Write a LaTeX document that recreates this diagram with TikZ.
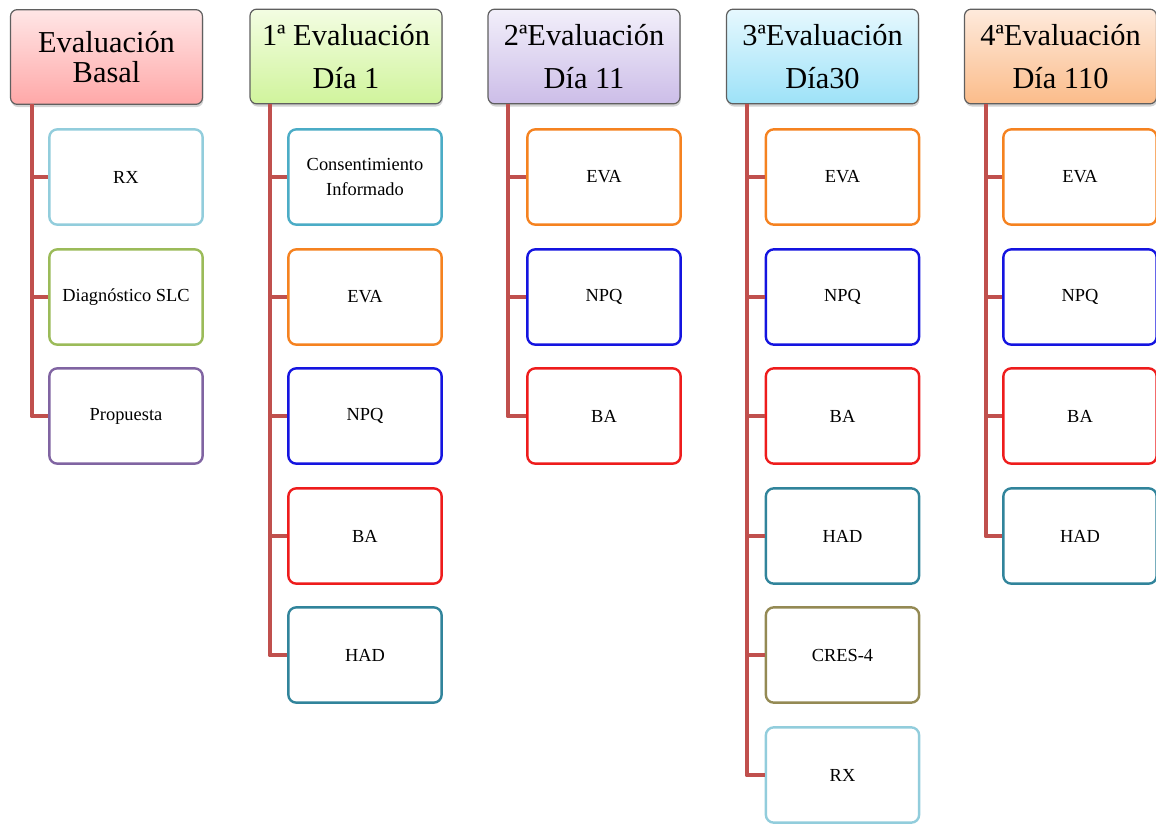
\documentclass[tikz,border=0pt]{standalone}
\usepackage{fontspec}
\setmainfont{Liberation Serif}
\usetikzlibrary{shadows}
\definecolor{spinec}{HTML}{C0504D}
\definecolor{hdrline}{HTML}{5F5F5F}
\definecolor{cRX}{HTML}{92CDDC}
\definecolor{cDX}{HTML}{9BBB59}
\definecolor{cPR}{HTML}{8064A2}
\definecolor{cCI}{HTML}{4BACC6}
\definecolor{cEVA}{HTML}{F58220}
\definecolor{cNPQ}{HTML}{1414E0}
\definecolor{cBA}{HTML}{EE1C1C}
\definecolor{cHAD}{HTML}{31849B}
\definecolor{cCRES}{HTML}{948A54}
\definecolor{pinkT}{HTML}{FFE6E6}\definecolor{pinkB}{HTML}{FFA8A8}
\definecolor{grnT}{HTML}{F3FDE2}\definecolor{grnB}{HTML}{D0F49C}
\definecolor{lavT}{HTML}{F2EFFA}\definecolor{lavB}{HTML}{CCBDE8}
\definecolor{cyaT}{HTML}{E6F8FE}\definecolor{cyaB}{HTML}{9DE2F8}
\definecolor{orgT}{HTML}{FEEADC}\definecolor{orgB}{HTML}{FBBC8A}
\begin{document}
\begin{tikzpicture}[x=0.75pt,y=-0.75pt,
  hdr/.style={rounded corners=5pt, draw=hdrline, line width=0.9pt,
    minimum width=144pt, minimum height=71pt, align=center, inner sep=0pt,
    font=\fontsize{22.8}{26}\selectfont,
    drop shadow={shadow xshift=0.6pt, shadow yshift=-2pt, opacity=0.35}},
  leaf/.style={rounded corners=6pt, line width=1.8pt, fill=white,
    minimum width=115pt, minimum height=71.5pt, align=center, inner sep=0pt,
    font=\fontsize{13.8}{16}\selectfont},
  spine/.style={draw=spinec, line width=3.7pt, line join=round}]
\useasboundingbox (0,0) rectangle (1156,826);

% headers
\node[hdr, top color=pinkT, bottom color=pinkB] (h1) at (106.5,57) {Evaluación\\[-4pt]Basal};
\node[hdr, top color=grnT, bottom color=grnB] (h2) at (346,56.5) {1ª Evaluación\\[6pt]Día 1};
\node[hdr, top color=lavT, bottom color=lavB] (h3) at (584,56.5) {2ªEvaluación\\[6pt]Día 11};
\node[hdr, top color=cyaT, bottom color=cyaB] (h4) at (822.5,56.5) {3ªEvaluación\\[6pt]Día30};
\node[hdr, top color=orgT, bottom color=orgB] (h5) at (1060.5,56.5) {4ªEvaluación\\[6pt]Día 110};

% spine start points
\coordinate (s1) at (32,104);
\coordinate (s2) at (270,104);
\coordinate (s3) at (508,104);
\coordinate (s4) at (747,104);
\coordinate (s5) at (986,104);

% column 1
\node[leaf, draw=cRX] (a1) at (126,177) {RX};
\node[leaf, draw=cDX] (a2) at (126,297) {Diagnóstico SLC};
\node[leaf, draw=cPR] (a3) at (126,416) {Propuesta};
% column 2
\node[leaf, draw=cCI] (b1) at (365,177) {Consentimiento\\[3pt]Informado};
\node[leaf, draw=cEVA] (b2) at (365,297) {EVA};
\node[leaf, draw=cNPQ] (b3) at (365,416) {NPQ};
\node[leaf, draw=cBA] (b4) at (365,536) {BA};
\node[leaf, draw=cHAD] (b5) at (365,655) {HAD};
% column 3
\node[leaf, draw=cEVA] (c1) at (604,177) {EVA};
\node[leaf, draw=cNPQ] (c2) at (604,297) {NPQ};
\node[leaf, draw=cBA] (c3) at (604,416) {BA};
% column 4
\node[leaf, draw=cEVA] (d1) at (842.5,177) {EVA};
\node[leaf, draw=cNPQ] (d2) at (842.5,297) {NPQ};
\node[leaf, draw=cBA] (d3) at (842.5,416) {BA};
\node[leaf, draw=cHAD] (d4) at (842.5,536) {HAD};
\node[leaf, draw=cCRES] (d5) at (842.5,655) {CRES-4};
\node[leaf, draw=cRX] (d6) at (842.5,775) {RX};
% column 5
\node[leaf, draw=cEVA] (e1) at (1080,177) {EVA};
\node[leaf, draw=cNPQ] (e2) at (1080,297) {NPQ};
\node[leaf, draw=cBA] (e3) at (1080,416) {BA};
\node[leaf, draw=cHAD] (e4) at (1080,536) {HAD};

% connectors
\foreach \n in {a1,a2,a3} \draw[spine] (s1) |- (\n.west);
\foreach \n in {b1,b2,b3,b4,b5} \draw[spine] (s2) |- (\n.west);
\foreach \n in {c1,c2,c3} \draw[spine] (s3) |- (\n.west);
\foreach \n in {d1,d2,d3,d4,d5,d6} \draw[spine] (s4) |- (\n.west);
\foreach \n in {e1,e2,e3,e4} \draw[spine] (s5) |- (\n.west);
\end{tikzpicture}
\end{document}
